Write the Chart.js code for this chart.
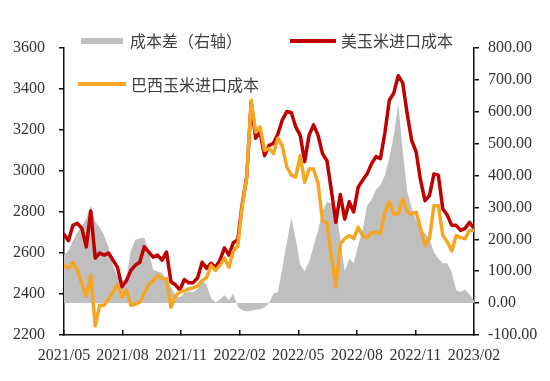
<!DOCTYPE html>
<html><head><meta charset="utf-8">
<script src="https://cdn.jsdelivr.net/npm/chart.js@4"></script>
<style>
html,body{margin:0;padding:0;background:#fff;}
#wrap{position:relative;width:550px;height:381px;overflow:hidden;}
#c{position:absolute;left:0;top:0;}
.lg{position:absolute;font-family:"Noto Sans CJK SC","Noto Sans",sans-serif;font-size:16px;color:#404040;line-height:20px;white-space:nowrap;}
.sw{position:absolute;}
</style></head><body>
<div id="wrap">
<canvas id="c" width="550" height="381"></canvas>
<div class="sw" style="left:81px;top:37.5px;width:42px;height:6px;background:#BFBFBF"></div>
<div class="lg" style="left:130px;top:30px">成本差（右轴）</div>
<div class="sw" style="left:290px;top:38.5px;width:46px;height:4.5px;background:#C00000"></div>
<div class="lg" style="left:341px;top:30px">美玉米进口成本</div>
<div class="sw" style="left:78px;top:81.5px;width:48px;height:4.5px;background:#F5A623"></div>
<div class="lg" style="left:131px;top:73.5px">巴西玉米进口成本</div>
</div>
<script>
const tickLabels = ['2021/05','2021/08','2021/11','2022/02','2022/05','2022/08','2022/11','2023/02'];
const usCost = [2690,2660,2735,2745,2720,2630,2805,2575,2600,2590,2600,2565,2530,2435,2465,2515,2540,2555,2630,2605,2580,2590,2565,2605,2460,2445,2420,2470,2455,2455,2480,2555,2525,2550,2530,2565,2625,2590,2650,2665,2840,2970,3335,3160,3190,3075,3125,3135,3180,3250,3290,3285,3215,3175,3045,3175,3225,3175,3085,3050,2905,2750,2885,2765,2850,2800,2920,2955,2985,3035,3070,3060,3185,3345,3380,3465,3430,3280,3150,3095,2955,2855,2880,2985,2980,2815,2785,2735,2735,2710,2720,2750,2720];
const brCost = [2540,2525,2555,2515,2450,2390,2490,2245,2345,2345,2375,2410,2445,2385,2420,2345,2350,2360,2405,2445,2465,2490,2475,2475,2335,2390,2410,2415,2425,2430,2440,2465,2480,2540,2515,2540,2575,2530,2610,2635,2830,2970,3345,3190,3215,3100,3110,3085,3160,3120,3020,2980,2970,3075,2945,3010,3010,2940,2760,2745,2580,2435,2645,2670,2685,2670,2725,2685,2675,2700,2700,2695,2800,2850,2790,2790,2865,2800,2790,2800,2720,2635,2670,2830,2830,2685,2655,2610,2685,2675,2670,2710,2710];
const spread = [150,165,195,222,240,265,305,255,238,212,175,118,85,68,78,165,198,203,205,165,105,99,95,70,50,25,18,31,36,34,45,75,55,15,2,12,25,10,30,-12,-22,-26,-24,-21,-19,-13,0,30,35,110,190,266,200,120,100,130,180,228,287,318,313,300,200,100,140,125,180,229,305,325,355,370,400,455,525,625,480,350,300,260,230,219,200,160,140,125,125,95,40,36,42,28,8];

const tickFont = {family:'"Liberation Serif","Times New Roman",serif', size:16};
const txt = '#333333';
const axisCol = '#111111';
const lastIdx = usCost.length - 1;
const pts = arr => arr.map((v, i) => ({x: i, y: v}));

new Chart(document.getElementById('c'), {
  type: 'line',
  data: {
    datasets: [
      {label:'巴西玉米进口成本', data: pts(brCost), yAxisID:'y', borderColor:'#F5A623', borderWidth:3.5, pointRadius:0, tension:0, borderJoinStyle:'round', borderCapStyle:'round', fill:false, order:1},
      {label:'美玉米进口成本', data: pts(usCost), yAxisID:'y', borderColor:'#C00000', borderWidth:3.5, pointRadius:0, tension:0, borderJoinStyle:'round', borderCapStyle:'round', fill:false, order:2},
      {label:'成本差（右轴）', data: pts(spread), yAxisID:'y1', borderWidth:0, borderColor:'rgba(0,0,0,0)', backgroundColor:'#BFBFBF', pointRadius:0, tension:0, fill:'origin', order:3}
    ]
  },
  options: {
    responsive:false, animation:false, devicePixelRatio:1,
    layout:{padding:{top:48, left:0, right:0, bottom:0}},
    plugins:{legend:{display:false}, tooltip:{enabled:false}},
    scales:{
      x:{type:'linear', min:0, max:lastIdx,
        afterBuildTicks: s => { s.ticks = tickLabels.map((_, k) => ({value: k * lastIdx / (tickLabels.length - 1)})); },
        ticks:{callback:(v, i) => tickLabels[i], font:tickFont, color:txt, maxRotation:0, autoSkip:false, padding:16},
        grid:{drawOnChartArea:false, tickLength:-5, color:axisCol, lineWidth:1.5},
        border:{color:axisCol, width:1.5},
        afterFit: s => { s.height = 46; }
      },
      y:{position:'left', min:2200, max:3600,
        ticks:{stepSize:200, font:tickFont, color:txt, padding:14, callback: v => String(v)},
        grid:{drawOnChartArea:false, tickLength:5, color:axisCol, lineWidth:1.5},
        border:{color:axisCol, width:1.5},
        afterFit: s => { s.width = 64; }
      },
      y1:{position:'right', min:-100, max:800,
        ticks:{stepSize:100, font:tickFont, color:txt, padding:9, callback: v => Number(v).toFixed(2)},
        grid:{drawOnChartArea:false, tickLength:5, color:axisCol, lineWidth:1.5},
        border:{color:axisCol, width:1.5},
        afterFit: s => { s.width = 76; }
      }
    }
  }
});
</script>
</body></html>
